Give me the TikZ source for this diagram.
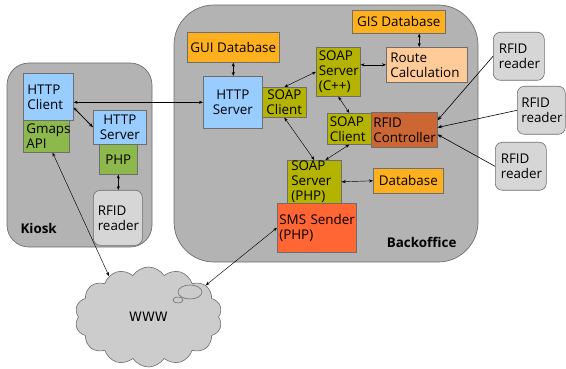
\documentclass[tikz,border=0pt]{standalone}
\usepackage{fontspec}
\setmainfont{Open Sans}
\newfontfamily\wwwfont{DejaVu Sans}
\usetikzlibrary{arrows.meta,shapes.symbols}
\definecolor{contgray}{HTML}{B3B3B3}
\definecolor{bordgray}{HTML}{6E6E6E}
\definecolor{readgray}{HTML}{D6D6D6}
\definecolor{cloudgray}{HTML}{CCCCCC}
\definecolor{dborange}{HTML}{FFB01E}
\definecolor{httpblue}{HTML}{99CCFF}
\definecolor{soapolive}{HTML}{B3B300}
\definecolor{phpgreen}{HTML}{8DB84B}
\definecolor{peach}{HTML}{FFCC99}
\definecolor{ctlbrown}{HTML}{CC6633}
\definecolor{smsred}{HTML}{FF6633}
\begin{document}
\begin{tikzpicture}[x=1pt,y=-1pt,
  txt/.style={font=\fontsize{13.4}{15}\selectfont},
  bx/.style={txt, draw=bordgray, line width=0.6pt, inner sep=0pt, anchor=north west, align=center},
  lft/.style={align=left, text width=#1},
  cont/.style={draw=bordgray, line width=0.7pt, fill=contgray},
  reader/.style={bx, fill=readgray, rounded corners=7pt},
  ar/.style={{Stealth[length=4pt,width=3pt]}-{Stealth[length=4pt,width=3pt]}, line width=0.45pt},
  onear/.style={-{Stealth[length=4.5pt,width=3.5pt]}, line width=0.6pt}]
\useasboundingbox (0,0) rectangle (566,369);
% containers
\draw[cont, rounded corners=22pt] (7,63) rectangle (152,247);
\draw[cont, rounded corners=40pt] (174,5) rectangle (478,262);
\node[txt, font=\fontsize{13.4}{15}\selectfont\bfseries, anchor=west] (kiosklbl) at (17,228) {Kiosk};
\node[txt, font=\fontsize{13.4}{15}\selectfont\bfseries, anchor=east] (bolbl) at (460,242) {Backoffice};
% kiosk
\node[bx, fill=httpblue, minimum width=50, minimum height=47, lft=42] (httpc) at (23,73) {HTTP\\Client};
\node[bx, fill=phpgreen, minimum width=46, minimum height=32, lft=40] (gmaps) at (23,120) {Gmaps\\API};
\node[bx, fill=httpblue, minimum width=53, minimum height=34] (khttps) at (93,110) {HTTP\\Server};
\node[bx, fill=phpgreen, minimum width=38, minimum height=30] (php) at (99,144) {PHP};
\node[reader, minimum width=49, minimum height=55, lft=40] (krfid) at (93,190) {RFID\\reader};
% backoffice
\node[bx, fill=dborange, minimum width=92, minimum height=30] (guidb) at (187,32) {GUI Database};
\node[bx, fill=dborange, minimum width=93, minimum height=23] (gisdb) at (352,10) {GIS Database};
\node[bx, fill=httpblue, minimum width=59, minimum height=52] (bhttps) at (203,76) {HTTP\\Server};
\node[bx, fill=soapolive, minimum width=44, minimum height=30] (soapc1) at (262,87) {SOAP\\Client};
\node[bx, fill=soapolive, minimum width=44, minimum height=49, lft=39] (soapscpp) at (316,47) {SOAP\\Server\\(C++)};
\node[bx, fill=peach, minimum width=81, minimum height=35, lft=73] (route) at (386,47) {Route\\Calculation};
\node[bx, fill=soapolive, minimum width=44, minimum height=31, lft=39] (soapc2) at (327,113) {SOAP\\Client};
\node[bx, fill=ctlbrown, minimum width=66, minimum height=35, lft=62] (rfidctl) at (371,112) {RFID\\Controller};
\node[bx, fill=soapolive, minimum width=54, minimum height=43, lft=46] (soapsphp) at (287,160) {SOAP\\Server\\(PHP)};
\node[bx, fill=smsred, minimum width=79, minimum height=49, lft=75] (sms) at (277,203) {SMS~Sender\\(PHP)};
\node[bx, fill=dborange, minimum width=70, minimum height=25] (db) at (373,168) {Database};
% external readers
\node[reader, minimum width=51, minimum height=48, lft=40] (r1) at (493,32) {RFID\\reader};
\node[reader, minimum width=48, minimum height=48, lft=40] (r2) at (517,86) {RFID\\reader};
\node[reader, minimum width=51, minimum height=48, lft=40] (r3) at (495,142) {RFID\\reader};
% cloud
\node[cloud, cloud puffs=14, cloud puff arc=115, aspect=1.45, draw=bordgray, line width=0.6pt, fill=cloudgray,
      minimum width=147pt, minimum height=100pt, inner sep=0pt, font=\wwwfont\fontsize{13}{15}\selectfont] (www) at (148.5,317) {WWW};
\draw[bordgray, line width=0.6pt] (190,292) ellipse [x radius=12, y radius=7];
\draw[bordgray, line width=0.6pt, fill=cloudgray] (178,300) ellipse [x radius=5, y radius=3];
% connectors
\draw[ar] (bhttps.west) -- (bhttps.west -| httpc.east);
\draw[ar, line width=0.8pt] (httpc.-23) -- (khttps.west);
\draw[ar] (php.south) -- (php.south |- krfid.north);
\draw[ar] (gmaps.-69) -- (www.134);
\draw[ar] (sms.west) -- (www.29);
\draw[ar] (guidb.south) -- (guidb.south |- bhttps.north);
\draw[ar] (soapc1.north) -- (soapscpp.west);
\draw[ar] (route.west) -- (route.west -| soapscpp.east);
\draw[ar] (gisdb.-30.5) -- (gisdb.-30.5 |- route.north);
\draw[ar] (soapscpp.south) -- (soapc2.north);
\draw[ar] (soapc1.south) -- (soapsphp.north);
\draw[ar] (soapc2.south) -- (soapsphp.63);
\draw[ar] (soapsphp.east) -- (db.west);
\draw[onear] (r1.west) -- (rfidctl.16);
\draw[onear] (r2.west) -- (rfidctl.4);
\draw[onear] (r3.west) -- (rfidctl.-8);
\end{tikzpicture}
\end{document}
